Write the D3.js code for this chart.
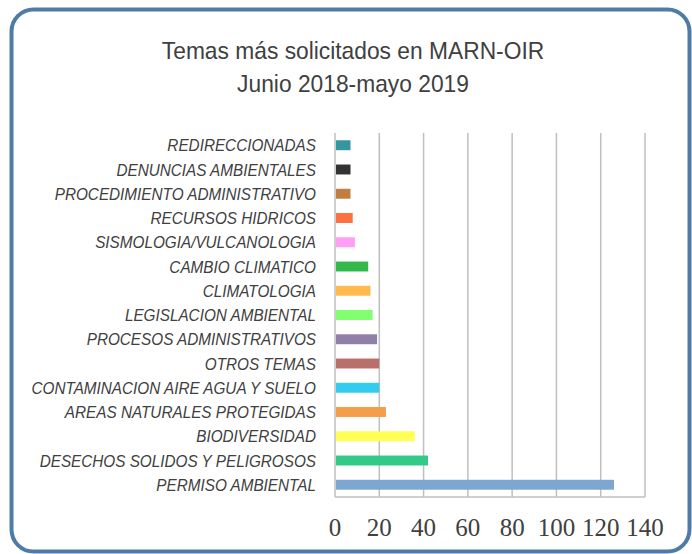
<!DOCTYPE html>
<html>
<head>
<meta charset="utf-8">
<script src="https://cdn.jsdelivr.net/npm/d3@7"></script>
<style>
  body { margin: 0; background: #fff; }
  svg { display: block; }
</style>
</head>
<body>
<script>
// categories top to bottom, as drawn
var temas = [
    "REDIRECCIONADAS",
    "DENUNCIAS AMBIENTALES",
    "PROCEDIMIENTO ADMINISTRATIVO",
    "RECURSOS HIDRICOS",
    "SISMOLOGIA/VULCANOLOGIA",
    "CAMBIO CLIMATICO",
    "CLIMATOLOGIA",
    "LEGISLACION AMBIENTAL",
    "PROCESOS ADMINISTRATIVOS",
    "OTROS TEMAS",
    "CONTAMINACION AIRE AGUA Y SUELO",
    "AREAS NATURALES PROTEGIDAS",
    "BIODIVERSIDAD",
    "DESECHOS SOLIDOS Y PELIGROSOS",
    "PERMISO AMBIENTAL"
];
var solicitudes = [7, 7, 7, 8, 9, 15, 16, 17, 19, 20, 20, 23, 36, 42, 126];
var colores = [
    "#3596a0", "#333333", "#c07f40", "#ff7040", "#ff9ef7",
    "#33b84a", "#ffba4d", "#80ff70", "#9080a8", "#ba706a",
    "#33ccf0", "#f59e4a", "#ffff55", "#33c986", "#7ea6d2"
];
var ticks = [0, 20, 40, 60, 80, 100, 120, 140];
var titulo = ["Temas más solicitados en MARN-OIR", "Junio 2018-mayo 2019"];

var W = 692, H = 554;
var margin = {top: 133, right: 47, bottom: 57, left: 335};

var svg = d3.select("body").append("svg")
    .attr("width", W)
    .attr("height", H);

// rounded frame
svg.append("rect")
    .attr("x", 11.5).attr("y", 9.5)
    .attr("width", 678).attr("height", 542)
    .attr("rx", 22).attr("ry", 22)
    .attr("fill", "#fff")
    .attr("stroke", "#4e7ca6")
    .attr("stroke-width", 4);

svg.selectAll(".titulo")
    .data(titulo)
    .enter().append("text")
    .attr("class", "titulo")
    .attr("transform", (d, i) => "translate(353," + (59 + i * 33) + ") scale(0.95,1)")
    .attr("text-anchor", "middle")
    .attr("font-family", "Liberation Sans, Arial, sans-serif")
    .attr("font-size", 24)
    .attr("fill", "#404040")
    .text(d => d);

var x = d3.scaleLinear()
    .domain([0, 140])
    .range([margin.left, W - margin.right]);

var y = d3.scaleBand()
    .domain(temas)
    .range([margin.top, H - margin.bottom])
    .paddingInner(0.59)
    .paddingOuter(0.3);

var g = svg.append("g");

// vertical gridlines
g.selectAll(".grid")
    .data(ticks.slice(1))
    .enter().append("line")
    .attr("x1", d => x(d)).attr("x2", d => x(d))
    .attr("y1", margin.top).attr("y2", H - margin.bottom)
    .attr("stroke", "#bfbfbf")
    .attr("stroke-width", 1.5);

g.append("line")
    .attr("x1", x(0)).attr("x2", x(0))
    .attr("y1", margin.top).attr("y2", H - margin.bottom)
    .attr("stroke", "#bfbfbf")
    .attr("stroke-width", 1.5);

g.append("line")
    .attr("x1", x(0)).attr("x2", x(140))
    .attr("y1", H - margin.bottom).attr("y2", H - margin.bottom)
    .attr("stroke", "#bfbfbf")
    .attr("stroke-width", 1.5);

g.selectAll(".bar")
    .data(temas)
    .enter().append("rect")
    .attr("class", "bar")
    .attr("x", x(0) + 1)
    .attr("y", d => y(d))
    .attr("width", (d, i) => x(solicitudes[i]) - x(0) - 1)
    .attr("height", y.bandwidth())
    .attr("fill", (d, i) => colores[i]);

// category labels (narrow italic look)
g.selectAll(".etiqueta")
    .data(temas)
    .enter().append("text")
    .attr("class", "etiqueta")
    .attr("transform", d => "translate(316," + (y(d) + y.bandwidth() / 2) + ") scale(0.9,1)")
    .attr("dy", "0.36em")
    .attr("text-anchor", "end")
    .attr("font-family", "Liberation Sans Narrow, Arial Narrow, Liberation Sans, sans-serif")
    .attr("font-style", "italic")
    .attr("font-size", 17)
    .attr("fill", "#404040")
    .text(d => d);

// x tick labels
g.selectAll(".tick-label")
    .data(ticks)
    .enter().append("text")
    .attr("class", "tick-label")
    .attr("x", d => x(d))
    .attr("y", 536)
    .attr("text-anchor", "middle")
    .attr("font-family", "Liberation Serif, Cambria, serif")
    .attr("font-size", 25)
    .attr("fill", "#404040")
    .text(d => d);
</script>
</body>
</html>
